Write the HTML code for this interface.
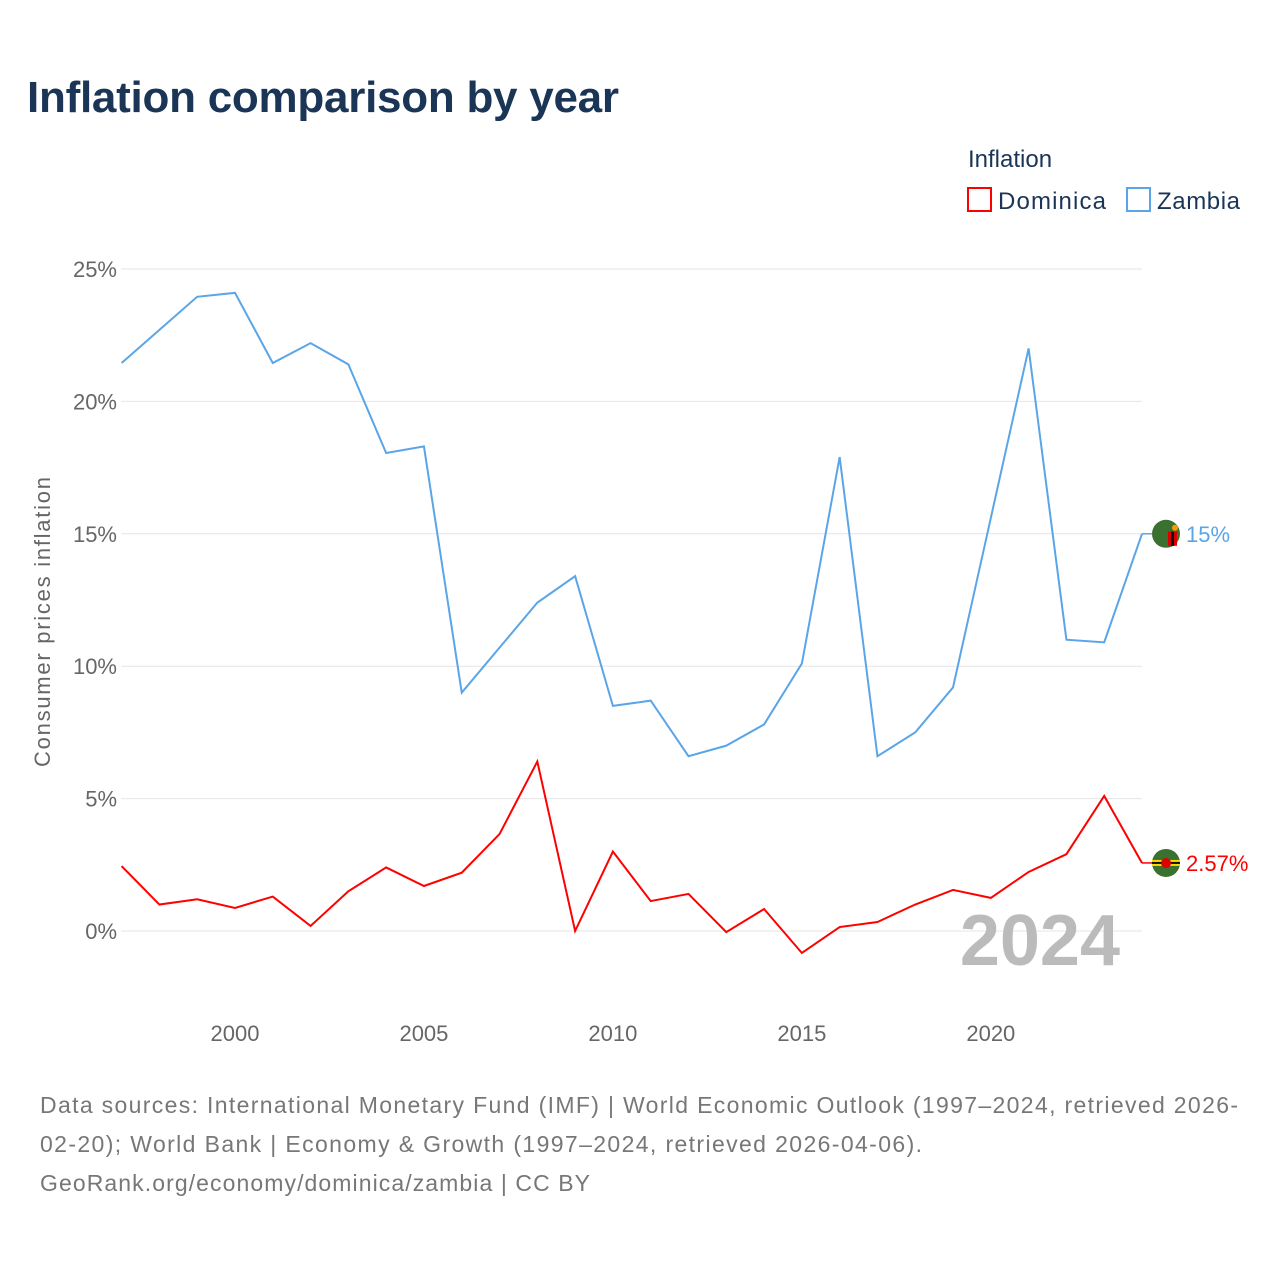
<!DOCTYPE html>
<html><head><meta charset="utf-8"><style>
body{margin:0;background:#fff;font-family:"Liberation Sans",sans-serif;}
</style></head><body>
<svg width="1280" height="1280" xmlns="http://www.w3.org/2000/svg" font-family="Liberation Sans, sans-serif">
<rect width="1280" height="1280" fill="#fff"/>
<text x="27" y="112" font-size="44" font-weight="bold" fill="#1a3556" textLength="592">Inflation comparison by year</text>
<text x="968" y="167" font-size="24" fill="#1a3556">Inflation</text>
<g><rect x="968" y="188" width="23" height="23" fill="none" stroke="#f00" stroke-width="2"/><text x="998" y="209" font-size="24" fill="#1a3556" textLength="108">Dominica</text></g>
<g><rect x="1127" y="188" width="23" height="23" fill="none" stroke="#5aa5e8" stroke-width="2"/><text x="1157" y="209" font-size="24" fill="#1a3556" textLength="83">Zambia</text></g>
<text transform="translate(50,622) rotate(-90)" text-anchor="middle" font-size="22" fill="#666" textLength="290">Consumer prices inflation</text>
<g id="grid"></g><g id="xt"></g>
<text x="1120" y="965" text-anchor="end" font-size="72" font-weight="bold" fill="#bbb">2024</text>
<g id="series"></g>
<text x="40" y="1113" font-size="23" fill="#777" textLength="1198">Data sources: International Monetary Fund (IMF) | World Economic Outlook (1997–2024, retrieved 2026-</text>
<text x="40" y="1152" font-size="23" fill="#777" textLength="882">02-20); World Bank | Economy &amp; Growth (1997–2024, retrieved 2026-04-06).</text>
<text x="40" y="1191" font-size="23" fill="#777" textLength="550">GeoRank.org/economy/dominica/zambia | CC BY</text>
</svg>
<script>
const years=[1997,1998,1999,2000,2001,2002,2003,2004,2005,2006,2007,2008,2009,2010,2011,2012,2013,2014,2015,2016,2017,2018,2019,2020,2021,2022,2023,2024];
const zambia=[21.45,22.7,23.95,24.1,21.45,22.2,21.4,18.05,18.3,9.0,10.7,12.4,13.4,8.5,8.7,6.6,7.0,7.8,10.1,17.9,6.6,7.5,9.2,15.6,22.0,11.0,10.9,15.0];
const dominica=[2.45,1.0,1.2,0.87,1.3,0.19,1.5,2.4,1.7,2.2,3.66,6.4,0.0,3.0,1.13,1.4,-0.04,0.83,-0.83,0.15,0.34,1.0,1.55,1.25,2.23,2.9,5.1,2.57];
const yTicks=[0,5,10,15,20,25];
const xTicks=[2000,2005,2010,2015,2020];
const NS="http://www.w3.org/2000/svg";
const X=y=>121.6+(y-1997)*(1142-121.6)/27;
const Y=v=>931-v*(931-269)/25;
function mk(t,a,p){const e=document.createElementNS(NS,t);for(const k in a)e.setAttribute(k,a[k]);p.appendChild(e);return e;}
const g=document.getElementById('grid');
yTicks.forEach(t=>{
 const l=mk('line',{x1:121,x2:1142,y1:Y(t),y2:Y(t),stroke:'#e6e6e6','stroke-width':1},g);
 
 
 const tx=mk('text',{x:117,y:Y(t)+8,'text-anchor':'end','font-size':22,fill:'#666'},g);tx.textContent=t+'%';
 
 
});
const xt=document.getElementById('xt');
xTicks.forEach(t=>{
 const tx=mk('text',{x:X(t),y:1041,'text-anchor':'middle','font-size':22,fill:'#666'},xt);tx.textContent=t;
 
 
});
const s=document.getElementById('series');
function series(vals,col,name,label,flag){
 const pts=vals.map((v,i)=>X(years[i])+','+Y(v)).join(' ');
 const pl=mk('polyline',{points:pts,fill:'none',stroke:col,'stroke-width':2},s);
 
 
 const last=vals[vals.length-1],ly=Y(last);
 mk('line',{x1:1142,x2:1152,y1:ly,y2:ly,stroke:col,'stroke-width':1.5},s);
 const c=mk('circle',{cx:1166,cy:ly,r:14,fill:'#3a7030'},s);
 
 
 if(flag==='z'){mk('rect',{x:1168,y:ly-2,width:9,height:14,fill:'#d00'},s);mk('rect',{x:1171,y:ly-2,width:3,height:14,fill:'#111'},s);mk('circle',{cx:1175,cy:ly-6,r:3,fill:'#f90'},s);}
 else{mk('rect',{x:1152,y:ly-3,width:28,height:6,fill:'#ffd700'},s);mk('rect',{x:1152,y:ly-1,width:28,height:2,fill:'#111'},s);mk('circle',{cx:1166,cy:ly,r:5,fill:'#d00'},s);}
 const t=mk('text',{x:1186,y:ly+8,'font-size':22,fill:col},s);t.textContent=label;
 
 
}
series(zambia,'#5aa5e8','zambia','15%','z');
series(dominica,'#f00','dominica','2.57%','d');
</script>
</body></html>
